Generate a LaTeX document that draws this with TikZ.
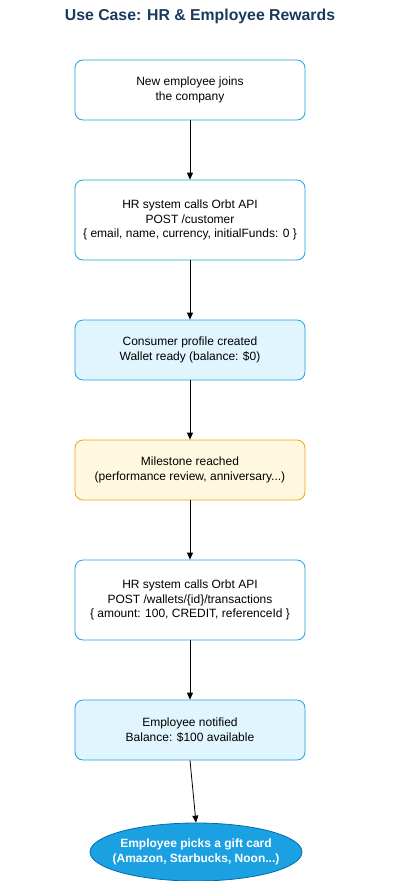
\documentclass[tikz,border=0pt]{standalone}
\usepackage{fontspec}
\setmainfont{Liberation Sans}
\usetikzlibrary{shapes.geometric,arrows.meta}
\definecolor{bluestroke}{HTML}{1BA1E2}
\definecolor{lightblue}{HTML}{E1F5FE}
\definecolor{yellowfill}{HTML}{FFF8E1}
\definecolor{yellowstroke}{HTML}{F0A30A}
\definecolor{ellfill}{HTML}{1BA1E2}
\definecolor{ellstroke}{HTML}{006EAF}
\definecolor{titlecol}{HTML}{1A3A5C}
\tikzset{
  box/.style={draw=bluestroke, line width=0.8pt, rounded corners=8pt, minimum width=230pt, align=center, font=\fontsize{12}{14.5}\selectfont, inner sep=0pt},
  plainbox/.style={box, fill=white},
  bluebox/.style={box, fill=lightblue},
  yellowbox/.style={box, draw=yellowstroke, fill=yellowfill},
  endell/.style={ellipse, draw=ellstroke, line width=0.8pt, fill=ellfill, minimum width=212pt, minimum height=58pt, inner sep=0pt},
  elltext/.style={align=center, text=white, font=\bfseries\fontsize{12}{14.5}\selectfont},
  conn/.style={-{Triangle[length=7pt,width=6pt]}, line width=0.8pt, black}
}
\begin{document}
\begin{tikzpicture}[x=1pt,y=-1pt]
\useasboundingbox (0,0) rectangle (401,881);
\node[font=\bfseries\fontsize{15.8}{19}\selectfont, text=titlecol] (title) at (200,16) {Use Case: HR \& Employee Rewards};
\node[plainbox, minimum height=60pt] (n1) at (190,90) {New employee joins\\the company};
\node[plainbox, minimum height=80pt] (n2) at (190,220) {HR system calls Orbt API\\POST /customer\\\{ email, name, currency, initialFunds: 0 \}};
\node[bluebox, minimum height=60pt] (n3) at (190,350) {Consumer profile created\\Wallet ready (balance: \$0)};
\node[yellowbox, minimum height=60pt] (n4) at (190,470) {Milestone reached\\(performance review, anniversary...)};
\node[plainbox, minimum height=80pt] (n5) at (190,600) {HR system calls Orbt API\\POST /wallets/\{id\}/transactions\\\{ amount: 100, CREDIT, referenceId \}};
\node[bluebox, minimum height=60pt] (n6) at (190,730) {Employee notified\\Balance: \$100 available};
\node[endell] (n7) at (196,852) {};
\node[elltext] (n7t) at (n7.center) {Employee picks a gift card\\(Amazon, Starbucks, Noon...)};
\draw[conn] (n1) -- (n2);
\draw[conn] (n2) -- (n3);
\draw[conn] (n3) -- (n4);
\draw[conn] (n4) -- (n5);
\draw[conn] (n5) -- (n6);
\draw[conn] (n6.south) -- (n7.north);
\end{tikzpicture}
\end{document}
